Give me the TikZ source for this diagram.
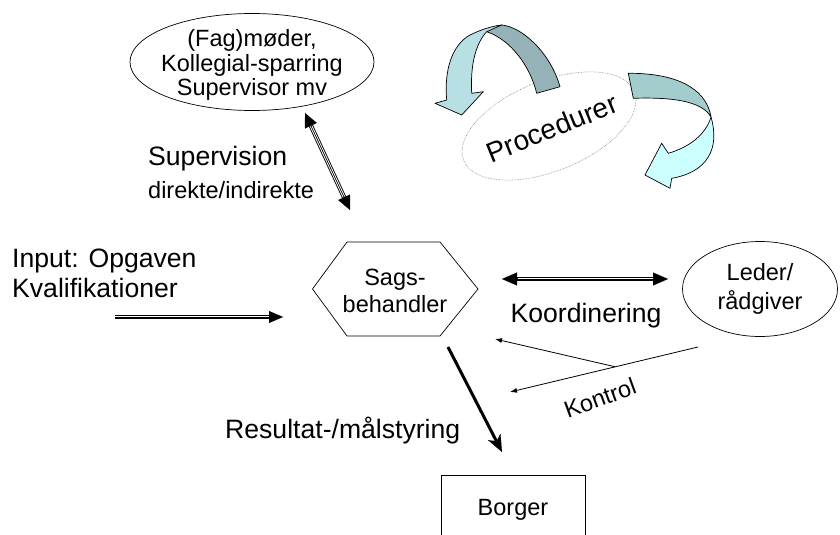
\documentclass[tikz,border=0pt]{standalone}
\usepackage{fontspec}
\setmainfont{Liberation Sans}
\usetikzlibrary{arrows.meta,shapes.geometric,calc}

\definecolor{ribdark}{HTML}{95B3B7}
\definecolor{riblight}{HTML}{B8DFE3}
\definecolor{ribteal}{HTML}{A3CCCC}
\definecolor{ribcyan}{HTML}{CCFFFF}

\begin{document}
\begin{tikzpicture}[x=1pt,y=-1pt,
  bigtxt/.style={font=\fontsize{26.6}{30}\selectfont, inner sep=0pt},
  boxtxt/.style={font=\fontsize{23.5}{27}\selectfont, inner sep=0pt, align=center},
  outline/.style={draw=black, line width=0.7pt},
  % three-line connector: wide black, white gap, thin black centre
  tripouter/.style={line width=4.4pt, black},
  tripgap/.style={line width=2.6pt, white},
  tripcore/.style={line width=0.7pt, black},
  thinarrow/.style={line width=0.8pt, -{Latex[length=7pt,width=5pt]}},
  ribbon/.style={draw=black, line width=0.7pt, line join=round}
]
\useasboundingbox (0,0) rectangle (840,535);

% ---------- meetings ellipse ----------
\node[outline, ellipse, minimum width=244pt, minimum height=97pt, inner sep=0pt] (fm) at (252,62) {};
\node[boxtxt, font=\fontsize{23.5}{24.5}\selectfont] (fmtext) at (252,65) {(Fag)møder,\\Kollegial-sparring\\Supervisor mv};

% ---------- procedures ----------
\node[draw=gray, densely dotted, line width=0.6pt, ellipse, minimum width=184pt, minimum height=90pt,
      inner sep=0pt, rotate=22] (procell) at (549,126) {};
\node[font=\fontsize{28}{30}\selectfont, inner sep=0pt, rotate=22] (proc) at (552,128) {Procedurer};

% left curved ribbon arrow
\path[ribbon, fill=ribdark]
  (486.7,31.7) .. controls (492,28) and (497,26) .. (501.7,25)
  .. controls (522,27) and (550,52) .. (560,86.7)
  -- (536.7,93.3)
  .. controls (530,66) and (511,40) .. cycle;
\path[ribbon, fill=riblight]
  (486.7,31.7) .. controls (477,42) and (470,62) .. (471.7,93.3)
  -- (483.3,91.7) -- (461.7,115) -- (435,103.3) -- (446.7,100)
  .. controls (444,70) and (452,45) .. (470,35)
  .. controls (480,30) and (492,26) .. (501.7,25)
  -- cycle;

% right curved ribbon arrow
\path[ribbon, fill=ribteal]
  (628.3,73.3) .. controls (672,73) and (706,86) .. (711,117)
  .. controls (702,101) and (672,97) .. (633.3,98.3) -- cycle;
\path[ribbon, fill=ribcyan]
  (711,117) .. controls (720,148) and (708,172) .. (671.7,178.3)
  -- (670,188.3) -- (645,175) -- (661.7,143.3) -- (668.3,153.3)
  .. controls (690,147) and (706,134) .. (711,117) -- cycle;

% ---------- case worker ----------
\draw[outline] (312.5,289) -- (347,242) -- (440,242) -- (478,289) -- (440,336) -- (347,336) -- cycle;
\node[boxtxt] (sb) at (395,291) {Sags-\\behandler};

% ---------- manager ----------
\node[outline, ellipse, minimum width=155pt, minimum height=95pt, inner sep=0pt,
      boxtxt, font=\fontsize{23.5}{29}\selectfont] (leder) at (760,289) {Leder/\\rådgiver};

% ---------- citizen ----------
\node[outline, minimum width=144pt, minimum height=70pt, inner sep=0pt,
      font=\fontsize{23.5}{27}\selectfont] (borger) at (513,510) {Borger};

% ---------- labels ----------
\node[bigtxt, anchor=west, align=left] (input) at (12,273) {Input: Opgaven\\Kvalifikationer};
\node[bigtxt, anchor=west] (sup) at (148,159) {Supervision};
\node[inner sep=0pt, anchor=west, font=\fontsize{23.5}{27}\selectfont] (supdi) at (148,190) {direkte/indirekte};
\node[bigtxt] (koord) at (586,316) {Koordinering};
\node[bigtxt, anchor=west] (resultat) at (225,431) {Resultat-/målstyring};
\node[inner sep=0pt, rotate=20, font=\fontsize{23.5}{27}\selectfont] (kontrol) at (600,398) {Kontrol};

% ---------- connector end points ----------
\coordinate (s1) at (305,113);
\coordinate (s2) at (350,210);
\coordinate (i1) at (115,317);
\coordinate (i2) at (283,317);
\coordinate (c1) at (502,279);
\coordinate (c2) at (668,279);
\coordinate (k1) at (698,347);
\coordinate (k2) at (510,392);
\coordinate (kb) at ($(k1)!0.44!(k2)$);
\coordinate (k3) at (495,339);
\coordinate (r1) at (448,347);
\coordinate (r2) at (502,452);

% supervision (both ends)
\draw[tripouter, {Triangle[length=14pt,width=13pt,line width=0.1pt]}-{Triangle[length=14pt,width=13pt,line width=0.1pt]}] (s1) -- (s2);
\draw[tripgap, shorten <=14.5pt, shorten >=14.5pt] (s1) -- (s2);
\draw[tripcore, shorten <=14pt, shorten >=14pt] (s1) -- (s2);

% input
\draw[tripouter, -{Triangle[length=14pt,width=12pt,line width=0.1pt]}] (i1) -- (i2);
\draw[tripgap, shorten >=14.5pt] (i1) -- (i2);
\draw[tripcore, shorten >=14pt] (i1) -- (i2);

% coordination (both ends)
\draw[tripouter, {Triangle[length=15pt,width=13pt,line width=0.1pt]}-{Triangle[length=15pt,width=13pt,line width=0.1pt]}] (c1) -- (c2);
\draw[tripgap, shorten <=15.5pt, shorten >=15.5pt] (c1) -- (c2);
\draw[tripcore, shorten <=15pt, shorten >=15pt] (c1) -- (c2);

% control
\draw[thinarrow] (k1) -- (k2);
\draw[thinarrow] (kb) -- (k3);

% result steering
\draw[line width=3pt, -{Stealth[length=17pt,width=14pt,inset=5pt,line width=0.1pt]}] (r1) -- (r2);

\end{tikzpicture}
\end{document}
